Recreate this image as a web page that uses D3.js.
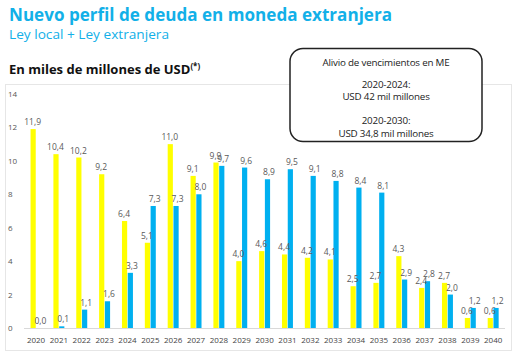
<!DOCTYPE html>
<html><head><meta charset="utf-8">
<script src="https://cdn.jsdelivr.net/npm/d3@7"></script>
<style>body{margin:0;background:#fff}svg{display:block}</style>
</head><body>
<svg id="c" width="517" height="356"></svg>
<script>
const years = ["2020","2021","2022","2023","2024","2025","2026","2027","2028","2029","2030","2031","2032","2033","2034","2035","2036","2037","2038","2039","2040"];
const seriesNames = ["amarillo","celeste"];
const yellowVals = [11.9,10.4,10.2,9.2,6.4,5.1,11.0,9.1,9.9,4.0,4.6,4.4,4.2,4.1,2.5,2.7,4.3,2.4,2.7,0.6,0.6];
const blueVals = [0.0,0.1,1.1,1.6,3.3,7.3,7.3,8.0,9.7,9.6,8.9,9.5,9.1,8.8,8.4,8.1,2.9,2.8,2.0,1.2,1.2];
const yTicks = [0,2,4,6,8,10,12,14];
const colors = ["#ffff00","#00b0f0"];
const title = "Nuevo perfil de deuda en moneda extranjera";
const subtitle = "Ley local + Ley extranjera";
const unitLabel = "En miles de millones de USD";
const boxLines = ["Alivio de vencimientos en ME","2020-2024:","USD 42 mil millones","2020-2030:","USD 34,8 mil millones"];

const svg = d3.select("#c");
const font = "'Open Sans', sans-serif";

// chart frame
svg.append("rect").attr("x",5.5).attr("y",84.5).attr("width",506).attr("height",266)
  .attr("fill","#fff").attr("stroke","#e6e6e6").attr("stroke-width",1);

// titles
svg.append("text").attr("x",9).attr("y",21).text(title)
  .attr("font-family",font).attr("font-weight",700).attr("font-size",18).attr("fill","#12b0e8")
  .attr("textLength",383).attr("lengthAdjust","spacingAndGlyphs");
svg.append("text").attr("x",9).attr("y",39).text(subtitle)
  .attr("font-family",font).attr("font-size",13.5).attr("fill","#12b0e8")
  .attr("textLength",160).attr("lengthAdjust","spacingAndGlyphs");
const ut = svg.append("text").attr("x",9).attr("y",74)
  .attr("font-family",font).attr("font-weight",700).attr("font-size",13).attr("fill","#111");
ut.append("tspan").text(unitLabel);
ut.append("tspan").text("(*)").attr("font-size",8).attr("dy",-5);

// scales
const y = d3.scaleLinear().domain([0,14]).range([328,94]);
const x0 = d3.scaleBand().domain(years).range([24.6,504.6]).paddingInner(0.52).paddingOuter(0.26);
const x1 = d3.scaleBand().domain(seriesNames).range([0,x0.bandwidth()]).paddingInner(0.1);

// y axis
const yAxis = svg.append("g").attr("transform","translate(19,0)")
  .call(d3.axisLeft(y).tickValues(yTicks).tickSize(0).tickPadding(0).tickFormat(d3.format("d")));
yAxis.select(".domain").remove();
yAxis.selectAll("text").attr("text-anchor","start").attr("x",-11).attr("font-family",font).attr("font-size",8).attr("fill","#555");

// baseline
svg.append("line").attr("x1",24).attr("x2",505).attr("y1",y(0)+0.5).attr("y2",y(0)+0.5).attr("stroke","#d9d9d9");

// x axis
const xAxis = svg.append("g").attr("transform",`translate(0,${y(0)})`)
  .call(d3.axisBottom(x0).tickSize(0).tickPadding(9));
xAxis.select(".domain").remove();
xAxis.selectAll("text").attr("font-family",font).attr("font-size",8).attr("fill","#444");

const data = years.map((yr,i)=>({year:yr, vals:[yellowVals[i],blueVals[i]]}));
const groups = svg.append("g").selectAll("g").data(data).join("g")
  .attr("transform",d=>`translate(${x0(d.year)},0)`);
groups.selectAll("rect").data(d=>d.vals.map((v,k)=>({k,v}))).join("rect")
  .attr("x",d=>x1(seriesNames[d.k])).attr("width",x1.bandwidth())
  .attr("y",d=>y(d.v)).attr("height",d=>y(0)-y(d.v)).attr("fill",d=>colors[d.k]);
groups.selectAll("text").data(d=>d.vals.map((v,k)=>({k,v}))).join("text")
  .attr("x",d=>x1(seriesNames[d.k])+x1.bandwidth()/2 + (d.k===1 ? 1.5 : -0.5)).attr("y",d=>y(d.v)-4)
  .attr("text-anchor","middle").attr("font-family",font).attr("font-size",8.5).attr("fill","#595959")
  .text(d=>d3.format(".1f")(d.v).replace(".",","));

// annotation box
svg.append("rect").attr("x",290).attr("y",48.5).attr("width",192).attr("height",93).attr("rx",13)
  .attr("fill","#fff").attr("stroke","#222").attr("stroke-width",1.5);
const by = [65.5,87.5,100,124,136.5];
svg.append("g").selectAll("text").data(boxLines).join("text")
  .attr("x",386).attr("y",(d,i)=>by[i]).attr("text-anchor","middle")
  .attr("font-family",font).attr("font-size",9.8).attr("fill","#222")
  .attr("letter-spacing",-0.2).text(d=>d);
</script>
</body></html>
